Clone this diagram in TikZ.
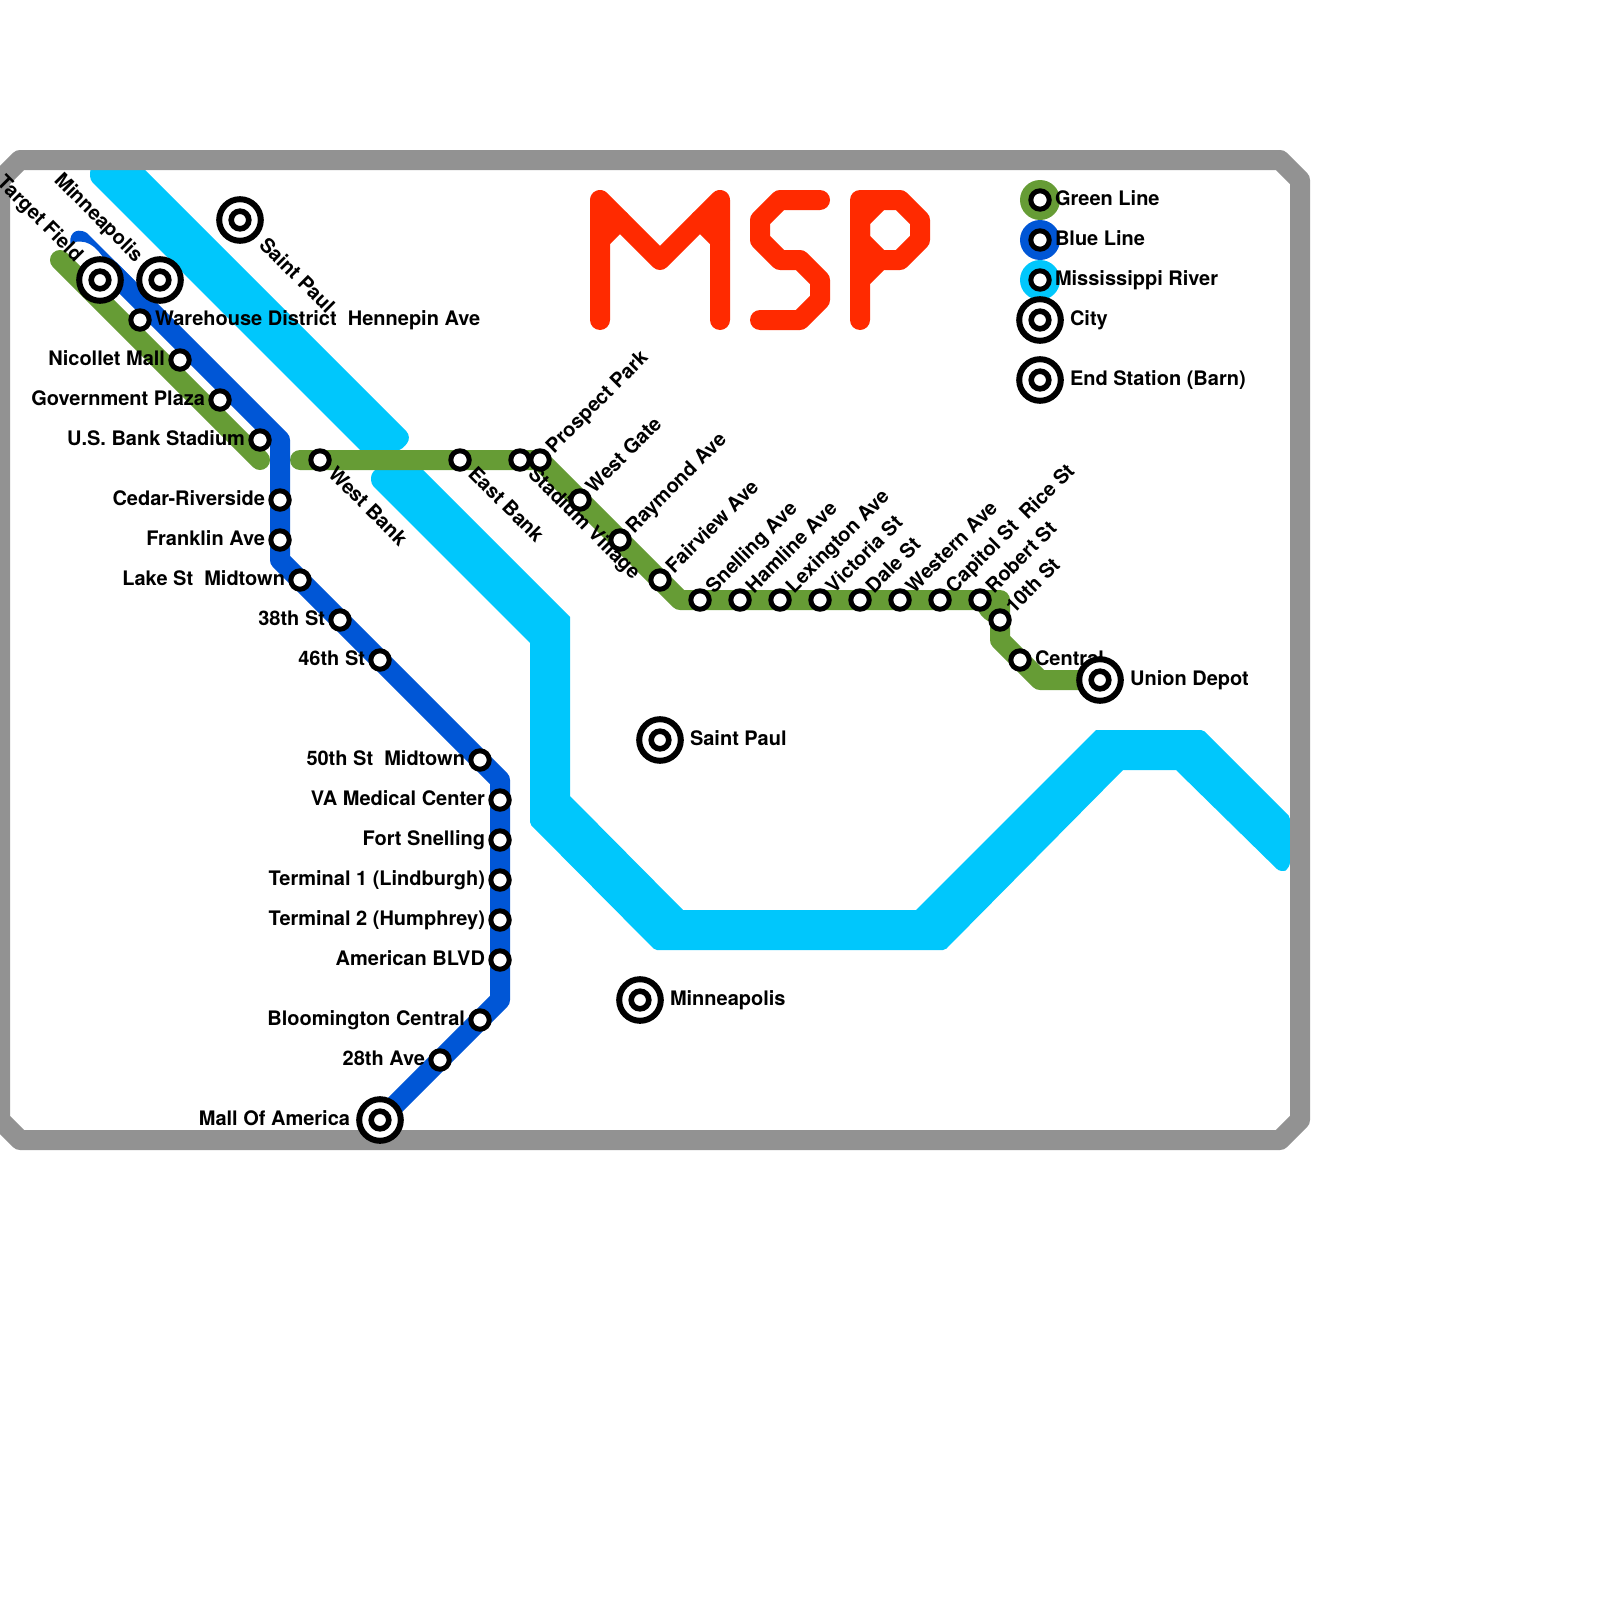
\documentclass[tikz,border=0pt]{standalone}
\usepackage{fontspec}
\setmainfont{TeX Gyre Heros}
\usetikzlibrary{calc}
\definecolor{lgreen}{HTML}{669C35}
\definecolor{lblue}{HTML}{0056D6}
\definecolor{lriver}{HTML}{00C7FC}
\definecolor{lgray}{HTML}{929292}
\definecolor{lred}{HTML}{FF2A00}
\pgfdeclarelayer{lines}
\pgfdeclarelayer{labels}
\pgfsetlayers{lines,labels,main}
\tikzset{
  route/.style={line width=20pt,line cap=round,line join=round},
  greenroute/.style={route,draw=lgreen},
  blueroute/.style={route,draw=lblue},
  msp/.style={route,draw=lred},
  frame/.style={draw=lgray,line width=20pt,line join=round},
  stn/.style={circle,draw=black,fill=white,line width=5pt,minimum size=18.4pt,inner sep=0pt},
  cityring/.style={circle,draw=black,fill=white,line width=6pt,minimum size=41.6pt,inner sep=0pt},
  cityinner/.style={circle,draw=black,fill=white,line width=5.6pt,minimum size=17.6pt,inner sep=0pt},
  legdot/.style={circle,minimum size=40pt,inner sep=0pt},
  lbl/.style={text=black,inner sep=0pt,outer sep=0pt,font=\fontsize{20}{24}\selectfont\bfseries},
}
\newcommand\stat[2]{\node[stn] (#1) at (#2) {};}
\newcommand\city[2]{\node[cityring] (#1-o) at (#2) {};\node[cityinner] (#1) at (#2) {};}
\newcommand\lL[3][15]{\begin{pgfonlayer}{labels}\node[lbl,anchor=base east] (#2-l) at ($(#2)+(-#1,5.2)$) {#3};\end{pgfonlayer}}
\newcommand\lR[3][15]{\begin{pgfonlayer}{labels}\node[lbl,anchor=base west] (#2-l) at ($(#2)+(#1,5.2)$) {#3};\end{pgfonlayer}}
\newcommand\lUR[2]{\begin{pgfonlayer}{labels}\node[lbl,anchor=base west,rotate=45] (#1-l) at ($(#1)+(14,-6)$) {#2};\end{pgfonlayer}}
\newcommand\lDR[3][7]{\begin{pgfonlayer}{labels}\node[lbl,anchor=base west,rotate=-45] (#2-l) at ($(#2)+(#1,#1+8)$) {#3};\end{pgfonlayer}}
\newcommand\lUL[2]{\begin{pgfonlayer}{labels}\node[lbl,anchor=base east,rotate=-45] (#1-l) at ($(#1)+(-25,-17)$) {#2};\end{pgfonlayer}}
\begin{document}
\begin{tikzpicture}[x=1pt,y=-1pt]
\useasboundingbox (0,0) rectangle (1600,1600);
% bends
\coordinate (g1a) at (60,260); \coordinate (g1b) at (260,460);
\coordinate (g2a) at (300,460); \coordinate (g2b) at (540,460); \coordinate (g2c) at (680,600);
\coordinate (g2d) at (1000,600); \coordinate (g2e) at (1000,640); \coordinate (g2f) at (1040,680);
\coordinate (b1) at (110,270); \coordinate (b2) at (280,440); \coordinate (b3) at (280,560);
\coordinate (b4) at (500,780); \coordinate (b5) at (500,1000);
% stations
\city{targetfield}{100,280}
\city{minneapolisA}{160,280}
\city{saintpaulA}{240,220}
\city{saintpaulB}{660,740}
\city{minneapolisB}{640,1000}
\stat{warehouse}{140,320}
\stat{nicollet}{180,360}
\stat{govplaza}{220,400}
\stat{usbank}{260,440}
\stat{westbank}{320,460}
\stat{eastbank}{460,460}
\stat{stadium}{520,460}
\stat{prospect}{540,460}
\stat{westgate}{580,500}
\stat{raymond}{620,540}
\stat{fairview}{660,580}
\stat{snelling}{700,600}
\stat{hamline}{740,600}
\stat{lexington}{780,600}
\stat{victoria}{820,600}
\stat{dale}{860,600}
\stat{western}{900,600}
\stat{capitol}{940,600}
\stat{robert}{980,600}
\stat{tenth}{1000,620}
\stat{central}{1020,660}
\city{union}{1100,680}
\stat{cedar}{280,500}
\stat{franklin}{280,540}
\stat{lake}{300,580}
\stat{st38}{340,620}
\stat{st46}{380,660}
\stat{st50}{480,760}
\stat{va}{500,800}
\stat{fort}{500,840}
\stat{term1}{500,880}
\stat{term2}{500,920}
\stat{american}{500,960}
\stat{bloomington}{480,1020}
\stat{ave28}{440,1060}
\city{mall}{380,1120}
% legend
\begin{pgfonlayer}{lines}
\node[legdot,fill=lgreen] (lgG) at (1040,200) {};
\node[legdot,fill=lblue] (lgB) at (1040,240) {};
\node[legdot,fill=lriver] (lgR) at (1040,280) {};
\end{pgfonlayer}
\stat{legGreen}{1040,200}
\stat{legBlue}{1040,240}
\stat{legRiver}{1040,280}
\city{legCity}{1040,320}
\city{legEnd}{1040,380}
% labels
\lUL{targetfield}{Target Field}
\lUL{minneapolisA}{Minneapolis}
\lDR[18]{saintpaulA}{Saint Paul}
\lR[30]{saintpaulB}{Saint Paul}
\lR[30]{minneapolisB}{Minneapolis}
\lR{warehouse}{Warehouse District\ \ Hennepin Ave}
\lL{nicollet}{Nicollet Mall}
\lL{govplaza}{Government Plaza}
\lL{usbank}{U.S. Bank Stadium}
\lDR{westbank}{West Bank}
\lDR{eastbank}{East Bank}
\lDR{stadium}{Stadium Village}
\lUR{prospect}{Prospect Park}
\lUR{westgate}{West Gate}
\lUR{raymond}{Raymond Ave}
\lUR{fairview}{Fairview Ave}
\lUR{snelling}{Snelling Ave}
\lUR{hamline}{Hamline Ave}
\lUR{lexington}{Lexington Ave}
\lUR{victoria}{Victoria St}
\lUR{dale}{Dale St}
\lUR{western}{Western Ave}
\lUR{capitol}{Capitol St\ \ Rice St}
\lUR{robert}{Robert St}
\lUR{tenth}{10th St}
\lR{central}{Central}
\lR[30]{union}{Union Depot}
\lL{cedar}{Cedar-Riverside}
\lL{franklin}{Franklin Ave}
\lL{lake}{Lake St\ \ Midtown}
\lL{st38}{38th St}
\lL{st46}{46th St}
\lL{st50}{50th St\ \ Midtown}
\lL{va}{VA Medical Center}
\lL{fort}{Fort Snelling}
\lL{term1}{Terminal 1 (Lindburgh)}
\lL{term2}{Terminal 2 (Humphrey)}
\lL{american}{American BLVD}
\lL{bloomington}{Bloomington Central}
\lL{ave28}{28th Ave}
\lL[30]{mall}{Mall Of America}
\lR{legGreen}{Green Line}
\lR{legBlue}{Blue Line}
\lR{legRiver}{Mississippi River}
\lR[30]{legCity}{City}
\lR[30]{legEnd}{End Station (Barn)}
% lines, river, frame
\begin{pgfonlayer}{lines}
\fill[lriver] (125,150) [rounded corners=8pt] -- (412,437) -- (400,452) [rounded corners=0pt] -- (360,450) [rounded corners=4pt] -- (90,180) [rounded corners=8pt] -- (90,165) -- cycle;
\fill[lriver] (413,460) -- (570,617) -- (570,796) -- (683,910) -- (916,910) -- (1096,730)
  [rounded corners=2pt] -- (1203,730) -- (1290,817) [rounded corners=6pt] -- (1290,868) -- (1281,873)
  [rounded corners=0pt] -- (1176,770) -- (1123,770) [rounded corners=2pt] -- (945,950) -- (655,950) -- (530,824)
  [rounded corners=0pt] -- (530,643) [rounded corners=4pt] -- (371,484) [rounded corners=8pt] -- (371,470) -- cycle;
\draw[frame] (20,160) -- (1280,160) -- (1300,180) -- (1300,1120) -- (1280,1140) -- (20,1140) -- (0,1120) -- (0,180) -- cycle;
\draw[greenroute] (g1a) -- (g1b);
\draw[greenroute] (g2a) -- (g2b) -- (g2c) -- (g2d) -- (g2e) -- (g2f) -- (union);
\draw[greenroute] (robert) -- (tenth);
\draw[blueroute] (b1) -- (b2) -- (b3) -- (b4) -- (b5) -- (mall);
\fill[lblue] (71,246) .. controls (68,236) and (74,226) .. (87,233) -- (135,281) -- (110,276) -- (108,265) .. controls (99,250) and (90,239) .. (75,242) -- cycle;
% title
\draw[msp] (600,320) -- (600,200) -- (660,260) -- (720,200) -- (720,320);
\draw[msp] (600,240) -- (620,220);
\draw[msp] (720,240) -- (700,220);
\draw[msp] (820,200) -- (780,200) -- (760,220) -- (760,240) -- (780,260) -- (800,260) -- (820,280) -- (820,300) -- (800,320) -- (760,320);
\draw[msp] (860,320) -- (860,200) -- (900,200) -- (920,220) -- (920,240) -- (900,260) -- (880,260) -- (860,280);
\draw[msp] (880,200) -- (860,220) -- (860,240) -- (880,260);
\end{pgfonlayer}
\end{tikzpicture}
\end{document}
